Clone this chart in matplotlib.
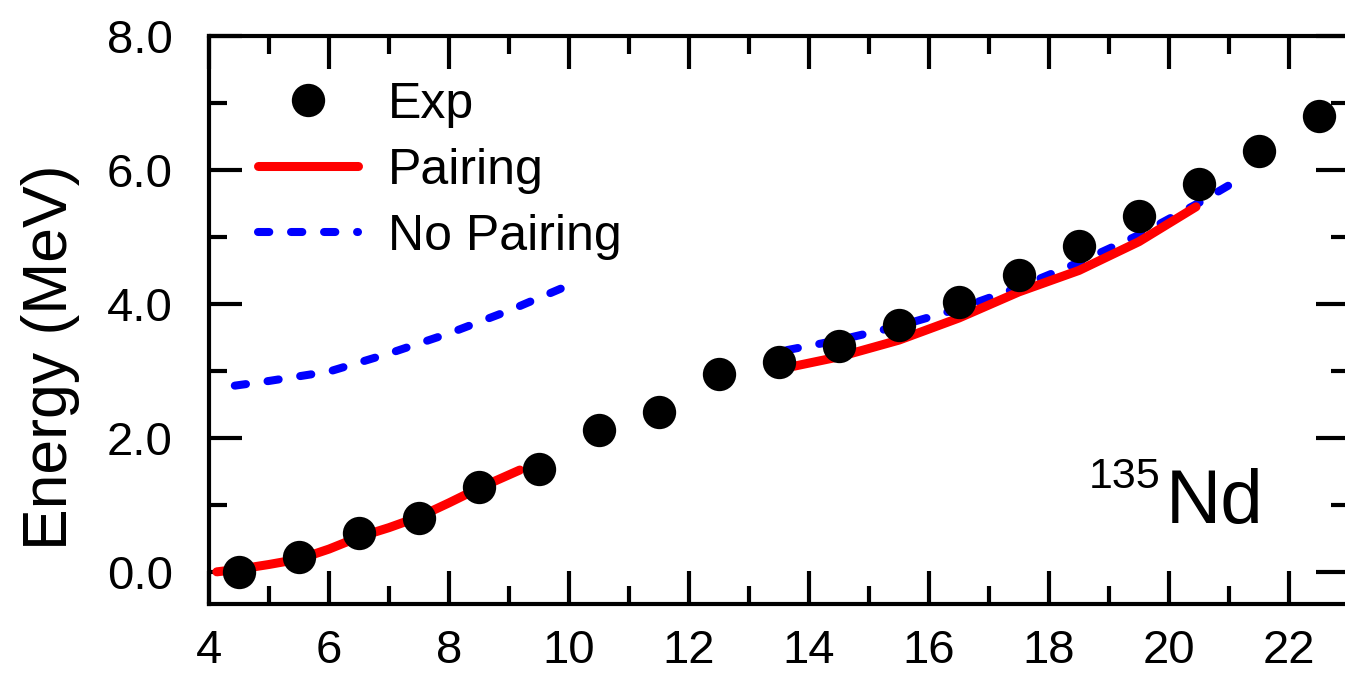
import matplotlib
matplotlib.use("Agg")
import matplotlib.pyplot as plt
from matplotlib.ticker import MultipleLocator, FormatStrFormatter

plt.rcParams['font.family'] = ['Liberation Sans', 'DejaVu Sans']

# Experimental levels
exp_spin = [4.5, 5.5, 6.5, 7.5, 8.5, 9.5, 10.5, 11.5, 12.5, 13.5,
            14.5, 15.5, 16.5, 17.5, 18.5, 19.5, 20.5, 21.5, 22.5]
exp_energy = [0.00, 0.22, 0.58, 0.81, 1.27, 1.54, 2.12, 2.39, 2.96, 3.13,
              3.37, 3.69, 4.03, 4.43, 4.87, 5.31, 5.79, 6.28, 6.81]

# Calculation with pairing (two bands)
pair1_spin = [4.13, 4.5, 5.0, 5.5, 6.0, 6.5, 7.0, 7.5, 8.0, 8.5, 9.18]
pair1_energy = [0.00, 0.04, 0.11, 0.19, 0.34, 0.52, 0.66, 0.82, 1.03, 1.25, 1.52]
pair2_spin = [13.75, 14.5, 15.5, 16.5, 17.5, 18.5, 19.5, 20.45]
pair2_energy = [3.07, 3.21, 3.46, 3.79, 4.18, 4.50, 4.93, 5.45]

# Calculation without pairing
nopair1_spin = [4.43, 5.0, 6.0, 7.0, 8.0, 9.0, 10.0]
nopair1_energy = [2.78, 2.85, 2.99, 3.26, 3.56, 3.90, 4.28]
nopair2_spin = [13.63, 14.5, 15.5, 16.5, 17.5, 18.5, 19.5, 20.5, 21.13]
nopair2_energy = [3.31, 3.46, 3.67, 3.93, 4.25, 4.62, 5.03, 5.51, 5.84]

fig = plt.figure(figsize=(13.45, 6.73), dpi=100)
ax = fig.add_axes([209/1345, 1-604/673, 1140/1345, 568/673])

dash = dict(color='#0000ff', lw=5.8, dashes=(1.4, 2.7), dash_capstyle='round')
ax.plot(nopair1_spin, nopair1_energy, **dash)
ax.plot(nopair2_spin, nopair2_energy, label='No Pairing', **dash)
ax.plot(pair1_spin, pair1_energy, color='#ff0000', lw=6.5, solid_capstyle='round')
ax.plot(pair2_spin, pair2_energy, color='#ff0000', lw=6.5, solid_capstyle='round', label='Pairing')
ax.plot(exp_spin, exp_energy, 'o', color='black', ms=24, mec='none', label='Exp')

ax.set_xlim(4, 23)
ax.set_ylim(-0.48, 8.0)
ax.xaxis.set_major_locator(MultipleLocator(2))
ax.xaxis.set_minor_locator(MultipleLocator(1))
ax.yaxis.set_major_locator(MultipleLocator(2))
ax.yaxis.set_minor_locator(MultipleLocator(1))
ax.yaxis.set_major_formatter(FormatStrFormatter('%.1f'))
ax.tick_params(which='both', direction='in', top=True, right=True, width=3)
ax.tick_params(which='major', length=24)
ax.tick_params(which='minor', length=13)
ax.tick_params(axis='x', labelsize=34, pad=18)
ax.tick_params(axis='y', labelsize=34, pad=26)
for s in ax.spines.values():
    s.set_linewidth(3)

ax.set_ylabel('Energy (MeV)', fontsize=45)
ax.yaxis.set_label_coords(-0.113, 0.435)

# nucleus label: superscript mass number + element, placed in pixels
ax.text(1160, 673 - 497, '135', transform=None, fontsize=31, ha='right', va='bottom')
ax.text(1166, 673 - 523, 'Nd', transform=None, fontsize=55, ha='left', va='baseline')

h, l = ax.get_legend_handles_labels()
order = [2, 1, 0]
ax.legend([h[i] for i in order], [l[i] for i in order], loc='upper left',
          bbox_to_anchor=(0.025, 0.955), frameon=False, fontsize=36,
          handlelength=2.0, handletextpad=0.6, labelspacing=0.4,
          borderaxespad=0)

fig.savefig('out.png', dpi=100)
